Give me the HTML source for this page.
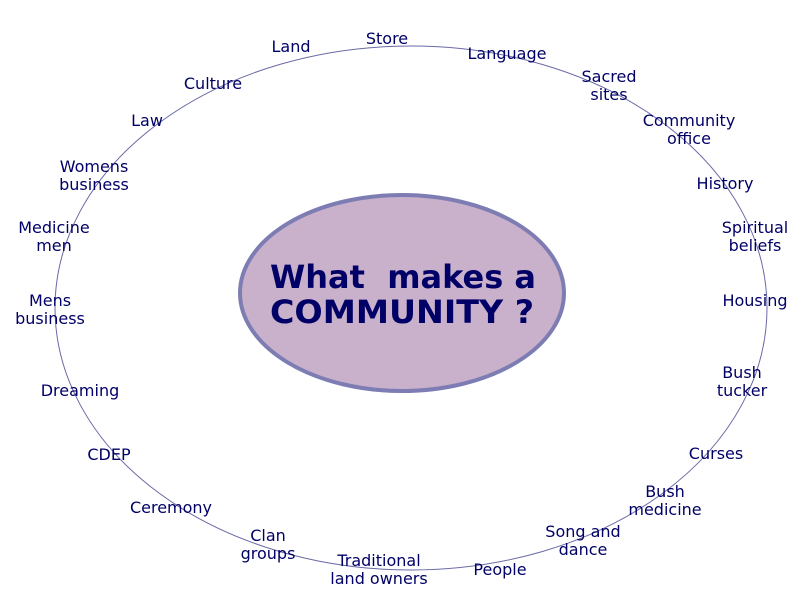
<!DOCTYPE html>
<html><head><style>
html,body{margin:0;padding:0;background:#fff;}
svg{display:block;}
.l{font-family:"DejaVu Sans","Liberation Sans",sans-serif;font-size:16px;fill:#000066;text-anchor:middle;}
.t{font-family:"DejaVu Sans","Liberation Sans",sans-serif;font-size:32px;font-weight:bold;fill:#000066;}
</style></head><body>
<svg width="800" height="600" viewBox="0 0 800 600">
<ellipse cx="411" cy="308" rx="356" ry="262" fill="none" stroke="#6a6aa6" stroke-width="1"/>
<ellipse cx="402" cy="293" rx="162" ry="98" fill="#c9b0cb" stroke="#7d7db3" stroke-width="4"/>
<text class="t" x="270" y="288" textLength="266" lengthAdjust="spacingAndGlyphs" xml:space="preserve">What  makes a</text>
<text class="t" x="270" y="323" textLength="264" lengthAdjust="spacingAndGlyphs">COMMUNITY ?</text>
<g transform="translate(0,-1)">
<text class="l" x="291" y="53">Land</text>
<text class="l" x="387" y="45">Store</text>
<text class="l" x="507" y="60">Language</text>
<text class="l" x="609" y="83">Sacred</text><text class="l" x="609" y="101">sites</text>
<text class="l" x="689" y="127">Community</text><text class="l" x="689" y="145">office</text>
<text class="l" x="725" y="190">History</text>
<text class="l" x="755" y="234">Spiritual</text><text class="l" x="755" y="252">beliefs</text>
<text class="l" x="755" y="307">Housing</text>
<text class="l" x="742" y="379">Bush</text><text class="l" x="742" y="397">tucker</text>
<text class="l" x="716" y="460">Curses</text>
<text class="l" x="665" y="498">Bush</text><text class="l" x="665" y="516">medicine</text>
<text class="l" x="583" y="538">Song and</text><text class="l" x="583" y="556">dance</text>
<text class="l" x="500" y="576">People</text>
<text class="l" x="379" y="567">Traditional</text><text class="l" x="379" y="585">land owners</text>
<text class="l" x="268" y="542">Clan</text><text class="l" x="268" y="560">groups</text>
<text class="l" x="171" y="514">Ceremony</text>
<text class="l" x="109" y="461">CDEP</text>
<text class="l" x="80" y="397">Dreaming</text>
<text class="l" x="50" y="307">Mens</text><text class="l" x="50" y="325">business</text>
<text class="l" x="54" y="234">Medicine</text><text class="l" x="54" y="252">men</text>
<text class="l" x="94" y="173">Womens</text><text class="l" x="94" y="191">business</text>
<text class="l" x="147" y="127">Law</text>
<text class="l" x="213" y="90">Culture</text>
</g>
</svg>
</body></html>
